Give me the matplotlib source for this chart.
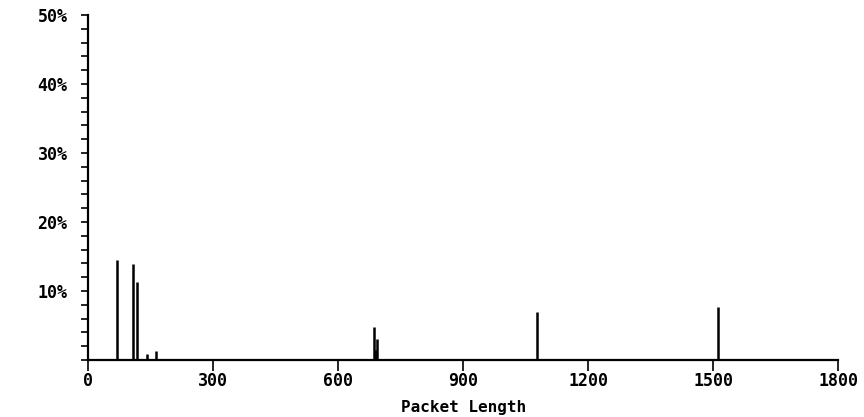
import matplotlib
matplotlib.use('Agg')
import matplotlib.pyplot as plt
import numpy as np

# packet length distribution (percent of packets)
lengths = [68, 107, 116, 142, 162, 686, 688, 690, 694, 1078, 1512]
percent = [14.5, 13.9, 11.3, 0.8, 1.3, 4.8, 1.5, 1.5, 3.0, 7.0, 7.7]

xticks = [0, 300, 600, 900, 1200, 1500, 1800]
yticks = [10, 20, 30, 40, 50]
ylabels = ['10%', '20%', '30%', '40%', '50%']

plt.rcParams['font.family'] = ['DejaVu Sans Mono', 'DejaVu Sans']
plt.rcParams['font.weight'] = 'bold'

fig = plt.figure(figsize=(8.64, 4.17), dpi=100)
ax = fig.add_axes([88.3/864, 57/417, (838-88.3)/864, 345/417])

ax.vlines(lengths, 0, percent, colors='black', linewidth=1.8)

ax.set_xlim(0, 1800)
ax.set_ylim(0, 50)
for s in ['top', 'right']:
    ax.spines[s].set_visible(False)
for s in ['left', 'bottom']:
    ax.spines[s].set_linewidth(1.6)

ax.set_xticks(xticks)
ax.set_xticklabels([str(t) for t in xticks], fontsize=12, fontweight='bold')
ax.set_yticks(yticks)
ax.set_yticklabels(ylabels, fontsize=12, fontweight='bold')
ax.set_yticks(np.arange(0, 51, 2), minor=True)
ax.tick_params(axis='x', direction='out', length=8, width=1.2, pad=1)
ax.tick_params(axis='y', which='both', direction='out', length=5, width=1.2, pad=10)

ax.set_xlabel('Packet Length', fontsize=11.5, fontweight='bold', labelpad=7)

plt.savefig('out.png', dpi=100)
